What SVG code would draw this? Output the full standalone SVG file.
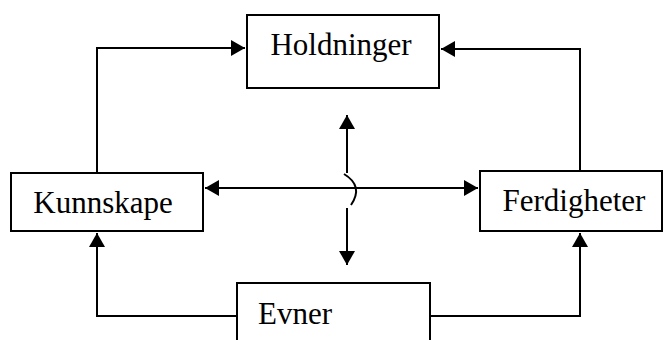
<svg xmlns="http://www.w3.org/2000/svg" width="664" height="340" viewBox="0 0 664 340">
<defs>
<marker id="ah" viewBox="0 0 14 16" refX="14" refY="8" markerWidth="14" markerHeight="16" markerUnits="userSpaceOnUse" orient="auto">
<path d="M0,0 L14,8 L0,16 Z" fill="#000"/>
</marker>
</defs>
<style>
.box{fill:#fff;stroke:#000;stroke-width:2}
.lbl{font-family:'Liberation Serif','Times New Roman','DejaVu Serif',serif;font-size:31px;fill:#000}
.ln{fill:none;stroke:#000;stroke-width:2}
</style>
<rect width="664" height="340" fill="#fff"/>
<g id="connectors">
<path class="ln" d="M97,173 V48 H245" marker-end="url(#ah)"/>
<path class="ln" d="M580,171 V49 H441" marker-end="url(#ah)"/>
<path class="ln" d="M237,316 H97 V233" marker-end="url(#ah)"/>
<path class="ln" d="M430,316 H580 V233" marker-end="url(#ah)"/>
<path class="ln" d="M340,188 H205" marker-end="url(#ah)"/>
<path class="ln" d="M340,188 H478" marker-end="url(#ah)"/>
<path class="ln" d="M347,173 V115" marker-end="url(#ah)"/>
<path class="ln" d="M344,174 Q364,186 351,205"/>
<path class="ln" d="M347,208 V265" marker-end="url(#ah)"/>
</g>
<g id="holdninger">
<rect class="box" x="247" y="15" width="192" height="73"/>
<text class="lbl" font-family="Liberation Serif, serif" x="341" y="55" text-anchor="middle">Holdninger</text>
</g>
<g id="kunnskape">
<rect class="box" x="11" y="173" width="192" height="58"/>
<text class="lbl" font-family="Liberation Serif, serif" x="103" y="213" text-anchor="middle">Kunnskape</text>
</g>
<g id="ferdigheter">
<rect class="box" x="480" y="171" width="182" height="60"/>
<text class="lbl" font-family="Liberation Serif, serif" x="574" y="211" text-anchor="middle">Ferdigheter</text>
</g>
<g id="evner">
<rect class="box" x="237" y="283" width="193" height="70"/>
<text class="lbl" font-family="Liberation Serif, serif" x="295" y="324" text-anchor="middle">Evner</text>
</g>
</svg>
